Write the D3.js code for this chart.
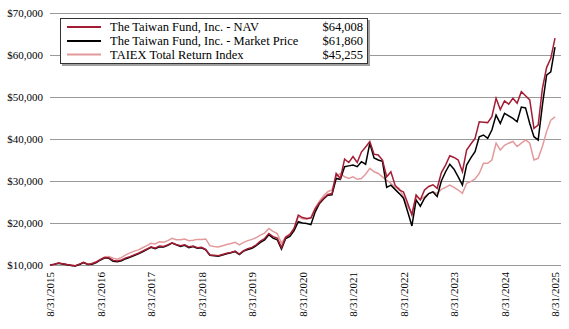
<!DOCTYPE html>
<html><head><meta charset="utf-8">
<script src="https://cdn.jsdelivr.net/npm/d3@7"></script>
<style>body{margin:0;background:#fff}svg{display:block}</style>
</head><body>
<svg id="c" width="569" height="329"></svg>
<script>
const seriesNames = ["The Taiwan Fund, Inc. - NAV", "The Taiwan Fund, Inc. - Market Price", "TAIEX Total Return Index"];
const endValues = ["$64,008", "$61,860", "$45,255"];
const xTickLabels = ["8/31/2015","8/31/2016","8/31/2017","8/31/2018","8/31/2019","8/31/2020","8/31/2021","8/31/2022","8/31/2023","8/31/2024","8/31/2025"];
const yTicks = [10000,20000,30000,40000,50000,60000,70000];

const nav = [10000,10200,10450,10300,10100,9950,9800,10200,10650,10150,10300,10700,11300,11800,11700,11100,10950,11200,11700,12000,12400,12800,13300,13800,14350,14000,14500,14400,14800,15300,14900,14600,14800,14300,14500,14100,14200,13700,12400,12300,12200,12500,12800,13000,13300,12600,13400,13900,14200,14800,15700,16300,17500,16750,16400,14130,16600,17200,18700,21900,21300,21100,21200,23300,24800,25900,26800,27000,31800,30600,35200,34400,35800,34400,36900,38100,39400,36400,36200,35000,31000,32200,29000,27900,27400,24700,21900,26700,25500,27850,28700,29100,28260,32000,33800,36000,35600,35000,32200,37380,38800,40150,44100,44000,43900,45300,49700,47000,49050,48300,49700,48500,51270,50300,49300,42540,43330,52000,57000,59200,64008];

const market = [10000,10150,10400,10250,10050,9900,9750,10100,10550,10100,10200,10600,11200,11700,11600,10900,10750,11000,11500,11850,12250,12650,13150,13650,14200,13900,14350,14300,14700,15200,14800,14400,14700,14100,14400,14000,14100,13600,12300,12200,12100,12400,12700,12900,13200,12500,13300,13700,14000,14600,15400,16000,17200,16400,16000,13800,16300,16800,18200,20300,20000,19900,19600,22600,24600,25700,26600,26700,30600,30400,33400,33600,33800,33400,34600,34000,39000,35500,35000,34700,28500,29000,28000,27000,25900,22700,19300,25500,24000,25900,27000,27400,26300,30000,32200,34000,32800,31000,29050,33800,35500,36980,40550,40950,40150,42150,45700,43700,46100,45500,44900,44100,47600,47400,43700,40550,39760,48000,55200,56000,61860];

const taiex = [10000,10200,10400,10300,10100,9950,9850,10200,10600,10200,10400,10800,11400,11900,12000,11600,11400,11800,12400,12900,13300,13600,14100,14600,15150,15000,15550,15400,15800,16340,16000,16000,16200,15800,15900,16100,16100,16200,14600,14400,14300,14600,14900,15100,15400,14800,15400,15800,16100,16500,17100,17600,18700,18000,17500,15200,16700,17400,18700,21500,21000,20900,21300,23600,25200,26500,27450,27850,31000,31800,31000,30600,31000,30400,30600,31600,33000,32200,31800,31000,30200,29450,28500,28260,26260,23900,22300,26300,25500,26300,27000,27450,27060,28000,28500,29050,28500,27850,27060,29450,29850,30500,31800,34200,34200,35000,39000,37380,38500,39000,39400,38200,39000,39760,39000,35000,35400,38200,41760,44500,45255];

const colors = ["#a31c33", "#000000", "#e39a9c"];
const data = [nav, market, taiex];

const svg = d3.select("#c");
const font = "'Liberation Serif', 'Times New Roman', serif";

const x = d3.scaleLinear().domain([0,120]).range([50,555]);
const y = d3.scaleLinear().domain([10000,70000]).range([265,13]);

// gridlines
svg.append("g").selectAll("line").data(yTicks).join("line")
  .attr("x1", 50).attr("x2", 561)
  .attr("y1", d => Math.round(y(d)) + 0.5).attr("y2", d => Math.round(y(d)) + 0.5)
  .attr("stroke", "#9a9a9a").attr("stroke-width", 1.2);

// y axis labels
const yAxis = d3.axisLeft(y).tickValues(yTicks).tickSize(0).tickPadding(7)
  .tickFormat(d => "$" + d3.format(",")(d));
const gy = svg.append("g").attr("transform", "translate(50,0)").call(yAxis);
gy.select(".domain").remove();
gy.selectAll("text").attr("font-family", font).attr("font-size", 11).attr("fill", "#000");

// x axis labels
const xAxis = d3.axisBottom(x).tickValues(d3.range(0,121,12)).tickSize(0)
  .tickFormat((d,i) => xTickLabels[i]);
const gx = svg.append("g").attr("transform", "translate(0,265)").call(xAxis);
gx.select(".domain").remove();
gx.selectAll("text").attr("font-family", font).attr("font-size", 11).attr("fill", "#000")
  .attr("text-anchor", "end").attr("transform", "rotate(-90)")
  .attr("x", -7).attr("y", 0).attr("dy", "0.35em");

// lines (draw TAIEX first, then market, then NAV on top)
const line = d3.line().x((d,i) => x(i)).y(d => y(d));
[2,1,0].forEach(k => {
  svg.append("path").datum(data[k]).attr("d", line)
    .attr("fill", "none").attr("stroke", colors[k]).attr("stroke-width", 1.5)
    .attr("stroke-linejoin", "miter");
});

// legend
const lg = svg.append("g");
lg.append("rect").attr("x", 62).attr("y", 20).attr("width", 308).attr("height", 46).attr("fill", "#a0a0a0");
lg.append("rect").attr("x", 60.5).attr("y", 18.5).attr("width", 307).attr("height", 45)
  .attr("fill", "#fff").attr("stroke", "#333").attr("stroke-width", 1);
const rowY = [27, 41, 54.5];
seriesNames.forEach((n, i) => {
  lg.append("line").attr("x1", 67).attr("x2", 101).attr("y1", rowY[i]).attr("y2", rowY[i])
    .attr("stroke", colors[i]).attr("stroke-width", 2);
  lg.append("text").attr("x", 110).attr("y", rowY[i]).attr("dy", "0.35em")
    .attr("font-family", font).attr("font-size", 12.5).text(n);
  lg.append("text").attr("x", 363).attr("y", rowY[i]).attr("dy", "0.35em").attr("text-anchor", "end")
    .attr("font-family", font).attr("font-size", 12.5).text(endValues[i]);
});
</script>
</body></html>
